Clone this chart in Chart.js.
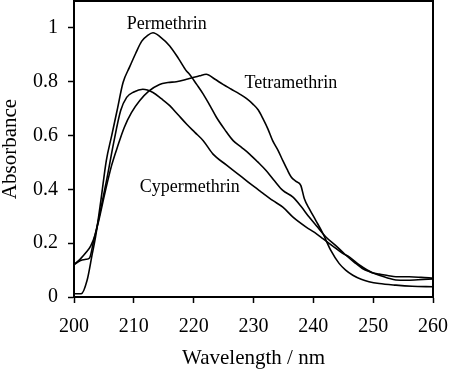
<!DOCTYPE html>
<html>
<head>
<meta charset="utf-8">
<script src="https://cdn.jsdelivr.net/npm/chart.js@4/dist/chart.umd.min.js"></script>
<style>
  body { margin: 0; background: #fff; }
  #box { width: 450px; height: 379px; }
</style>
</head>
<body>
<div id="box"><canvas id="grafica" width="450" height="379"></canvas></div>
<script>
const permWl = [200, 201.2, 202.2, 203.05, 203.6, 204.5, 205.4, 206.3, 207.2, 208.2, 209.3, 210.3, 211.3, 212.3, 213.2, 214.5, 216, 217.5, 218.8, 219.3, 220.5, 221.6, 222.7, 223.8, 225.2, 226.6, 228, 229.3, 230.7, 232.1, 233.5, 234.9, 236.6, 238, 239.3, 240.7, 242.1, 243.8, 245.4, 246.8, 248.2, 249.6, 251, 252.4, 253.8, 255.5, 257.5, 260]
const permAbs = [0.012, 0.012, 0.063, 0.16, 0.223, 0.36, 0.507, 0.6, 0.693, 0.797, 0.855, 0.905, 0.95, 0.972, 0.982, 0.965, 0.933, 0.885, 0.84, 0.828, 0.79, 0.754, 0.712, 0.668, 0.622, 0.581, 0.556, 0.532, 0.502, 0.47, 0.432, 0.396, 0.371, 0.335, 0.297, 0.26, 0.223, 0.19, 0.156, 0.13, 0.106, 0.092, 0.081, 0.071, 0.063, 0.062, 0.064, 0.067]

const tetraWl = [200, 201, 202, 202.6, 203.3, 204.2, 205.2, 206.3, 207.3, 208.4, 209.6, 211, 212.5, 214.3, 215.7, 217.1, 219, 221, 222.1, 223.5, 224.9, 226.3, 227.7, 228.8, 229.9, 230.8, 231.6, 232.4, 233.2, 234.1, 234.9, 235.6, 236.3, 237.1, 237.9, 238.5, 239.4, 240.4, 241.6, 242.9, 244.3, 245.4, 246.6, 248, 249.3, 251, 253.8, 256.5, 260]
const tetraAbs = [0.12, 0.135, 0.14, 0.145, 0.21, 0.29, 0.39, 0.49, 0.56, 0.63, 0.685, 0.73, 0.765, 0.79, 0.797, 0.8, 0.81, 0.822, 0.828, 0.81, 0.79, 0.772, 0.754, 0.738, 0.717, 0.695, 0.662, 0.625, 0.581, 0.545, 0.507, 0.475, 0.446, 0.43, 0.415, 0.365, 0.325, 0.285, 0.236, 0.174, 0.125, 0.1, 0.081, 0.066, 0.057, 0.05, 0.044, 0.04, 0.038]

const cyperWl = [200, 201, 202, 202.8, 203.5, 204.5, 205.5, 206.6, 207.8, 208.8, 210, 211.5, 213.2, 214.6, 216, 217.4, 218.8, 220.2, 221.6, 223.2, 225.5, 227.7, 229.5, 231.3, 233.2, 234.9, 236.6, 238.8, 240.2, 241.6, 243.2, 244.9, 246, 247.7, 249.9, 251, 252.4, 253.8, 256, 258, 260]
const cyperAbs = [0.12, 0.14, 0.165, 0.19, 0.23, 0.33, 0.44, 0.57, 0.693, 0.742, 0.762, 0.772, 0.76, 0.737, 0.711, 0.677, 0.643, 0.612, 0.581, 0.532, 0.49, 0.452, 0.42, 0.39, 0.359, 0.334, 0.297, 0.26, 0.24, 0.217, 0.19, 0.162, 0.149, 0.119, 0.09, 0.085, 0.08, 0.075, 0.075, 0.073, 0.07]

const curveNames = ['Permethrin', 'Tetramethrin', 'Cypermethrin']

const xTicks = [200, 210, 220, 230, 240, 250, 260]
const yTicks = [0, 0.2, 0.4, 0.6, 0.8, 1]

const FONT = '"Liberation Serif", "Times New Roman", serif'

const toPoints = (wl, abs) => wl.map((w, i) => ({ x: w, y: abs[i] }))

const lineStyle = {
  borderColor: '#000',
  borderWidth: 1.6,
  pointRadius: 0,
  fill: false,
  cubicInterpolationMode: 'monotone'
}

// donde va cada nombre (en unidades de la grafica)
const labelSpots = [[208.8, 0.996], [228.5, 0.778], [211, 0.389]]

const marcoYNombres = {
  id: 'marcoYNombres',
  afterDraw(chart) {
    const { ctx, chartArea, scales } = chart
    ctx.save()
    ctx.strokeStyle = '#000'
    ctx.lineWidth = 2
    ctx.beginPath()
    ctx.moveTo(chartArea.left, chartArea.top)
    ctx.lineTo(chartArea.right, chartArea.top)
    ctx.lineTo(chartArea.right, chartArea.bottom)
    ctx.stroke()

    ctx.fillStyle = '#000'
    ctx.font = '18px ' + FONT
    ctx.textBaseline = 'alphabetic'
    ctx.textAlign = 'left'
    curveNames.forEach((name, i) => {
      const px = scales.x.getPixelForValue(labelSpots[i][0])
      const py = scales.y.getPixelForValue(labelSpots[i][1])
      ctx.fillText(name, px, py)
    })
    ctx.restore()
  }
}

const ctx = document.getElementById('grafica').getContext('2d')

new Chart(ctx, {
  type: 'line',
  data: {
    datasets: [
      { label: curveNames[0], data: toPoints(permWl, permAbs), ...lineStyle },
      { label: curveNames[1], data: toPoints(tetraWl, tetraAbs), ...lineStyle },
      { label: curveNames[2], data: toPoints(cyperWl, cyperAbs), ...lineStyle }
    ]
  },
  options: {
    responsive: false,
    animation: false,
    layout: { padding: { top: 1, right: 17, left: 0, bottom: 0 } },
    plugins: { legend: { display: false }, tooltip: { enabled: false } },
    scales: {
      x: {
        type: 'linear',
        min: xTicks[0],
        max: xTicks[xTicks.length - 1],
        afterBuildTicks: s => { s.ticks = xTicks.map(v => ({ value: v })) },
        border: { color: '#000', width: 2 },
        grid: { drawOnChartArea: false, drawTicks: true, tickLength: 6, tickColor: '#000', tickWidth: 1.5 },
        ticks: { color: '#000', font: { family: FONT, size: 20 }, padding: 12, maxRotation: 0 },
        title: { display: true, text: 'Wavelength / nm', color: '#000', font: { family: FONT, size: 21 }, padding: { top: 0, bottom: 8 } },
        afterFit: s => {
          s.height = 82
          s.paddingLeft = 0
          s.paddingRight = 0
        }
      },
      y: {
        type: 'linear',
        min: 0,
        max: 1.1,
        afterBuildTicks: s => { s.ticks = yTicks.map(v => ({ value: v })) },
        border: { color: '#000', width: 2 },
        grid: { drawOnChartArea: false, drawTicks: true, tickLength: 6, tickColor: '#000', tickWidth: 1.5 },
        ticks: { color: '#000', font: { family: FONT, size: 20 }, padding: 10, callback: v => String(+v.toFixed(1)) },
        title: { display: true, text: 'Absorbance', color: '#000', font: { family: FONT, size: 21, lineHeight: 1 }, padding: 0 },
        afterFit: s => {
          s.width = 74
          s.paddingTop = 0
          s.paddingBottom = 0
        }
      }
    }
  },
  plugins: [marcoYNombres]
})
</script>
</body>
</html>
